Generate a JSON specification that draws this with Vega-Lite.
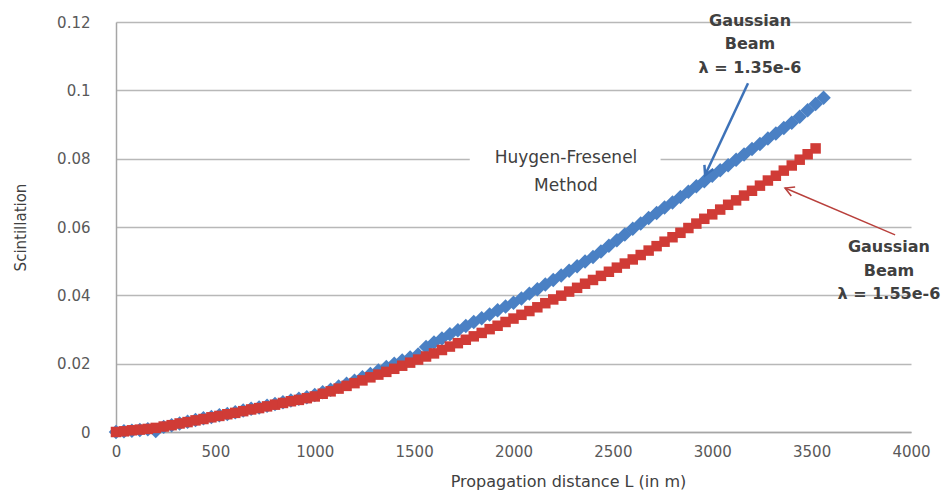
{
  "$schema": "https://vega.github.io/schema/vega-lite/v6.json",
  "width": 795,
  "height": 410,
  "autosize": {"type": "none"},
  "padding": {"left": 116, "top": 22, "right": 37, "bottom": 69},
  "background": "white",
  "config": {
    "view": {"stroke": null},
    "font": "DejaVu Sans"
  },
  "datasets": {
    "beam": [
      {"L": 0, "blue": 0.0000, "red": 0.0000},
      {"L": 40, "blue": 0.0002, "red": 0.0002},
      {"L": 80, "blue": 0.0004, "red": 0.0005},
      {"L": 120, "blue": 0.0006, "red": 0.0007},
      {"L": 160, "blue": 0.0008, "red": 0.0009},
      {"L": 200, "blue": 0.0003, "red": 0.0012},
      {"L": 240, "blue": 0.0015, "red": 0.0016},
      {"L": 280, "blue": 0.0020, "red": 0.0020},
      {"L": 320, "blue": 0.0025, "red": 0.0025},
      {"L": 360, "blue": 0.0030, "red": 0.0029},
      {"L": 400, "blue": 0.0035, "red": 0.0034},
      {"L": 440, "blue": 0.0040, "red": 0.0038},
      {"L": 480, "blue": 0.0044, "red": 0.0043},
      {"L": 520, "blue": 0.0049, "red": 0.0047},
      {"L": 560, "blue": 0.0053, "red": 0.0052},
      {"L": 600, "blue": 0.0058, "red": 0.0056},
      {"L": 640, "blue": 0.0063, "red": 0.0061},
      {"L": 680, "blue": 0.0068, "red": 0.0066},
      {"L": 720, "blue": 0.0072, "red": 0.0070},
      {"L": 760, "blue": 0.0077, "red": 0.0075},
      {"L": 800, "blue": 0.0082, "red": 0.0080},
      {"L": 840, "blue": 0.0087, "red": 0.0085},
      {"L": 880, "blue": 0.0092, "red": 0.0090},
      {"L": 920, "blue": 0.0097, "red": 0.0094},
      {"L": 960, "blue": 0.0102, "red": 0.0099},
      {"L": 1000, "blue": 0.0108, "red": 0.0104},
      {"L": 1040, "blue": 0.0116, "red": 0.0112},
      {"L": 1080, "blue": 0.0124, "red": 0.0119},
      {"L": 1120, "blue": 0.0133, "red": 0.0127},
      {"L": 1160, "blue": 0.0141, "red": 0.0135},
      {"L": 1200, "blue": 0.0150, "red": 0.0143},
      {"L": 1240, "blue": 0.0160, "red": 0.0151},
      {"L": 1280, "blue": 0.0170, "red": 0.0160},
      {"L": 1320, "blue": 0.0180, "red": 0.0168},
      {"L": 1360, "blue": 0.0190, "red": 0.0176},
      {"L": 1400, "blue": 0.0200, "red": 0.0185},
      {"L": 1440, "blue": 0.0209, "red": 0.0194},
      {"L": 1480, "blue": 0.0218, "red": 0.0203},
      {"L": 1520, "blue": 0.0227, "red": 0.0212},
      {"L": 1560, "blue": 0.0249, "red": 0.0221},
      {"L": 1600, "blue": 0.0262, "red": 0.0230},
      {"L": 1640, "blue": 0.0274, "red": 0.0240},
      {"L": 1680, "blue": 0.0286, "red": 0.0250},
      {"L": 1720, "blue": 0.0298, "red": 0.0260},
      {"L": 1760, "blue": 0.0310, "red": 0.0270},
      {"L": 1800, "blue": 0.0322, "red": 0.0280},
      {"L": 1840, "blue": 0.0333, "red": 0.0290},
      {"L": 1880, "blue": 0.0344, "red": 0.0301},
      {"L": 1920, "blue": 0.0356, "red": 0.0311},
      {"L": 1960, "blue": 0.0367, "red": 0.0322},
      {"L": 2000, "blue": 0.0378, "red": 0.0332},
      {"L": 2040, "blue": 0.0391, "red": 0.0343},
      {"L": 2080, "blue": 0.0405, "red": 0.0354},
      {"L": 2120, "blue": 0.0418, "red": 0.0365},
      {"L": 2160, "blue": 0.0432, "red": 0.0377},
      {"L": 2200, "blue": 0.0445, "red": 0.0388},
      {"L": 2240, "blue": 0.0458, "red": 0.0399},
      {"L": 2280, "blue": 0.0472, "red": 0.0411},
      {"L": 2320, "blue": 0.0485, "red": 0.0422},
      {"L": 2360, "blue": 0.0499, "red": 0.0434},
      {"L": 2400, "blue": 0.0512, "red": 0.0445},
      {"L": 2440, "blue": 0.0528, "red": 0.0457},
      {"L": 2480, "blue": 0.0545, "red": 0.0469},
      {"L": 2520, "blue": 0.0561, "red": 0.0481},
      {"L": 2560, "blue": 0.0578, "red": 0.0493},
      {"L": 2600, "blue": 0.0595, "red": 0.0505},
      {"L": 2640, "blue": 0.0610, "red": 0.0518},
      {"L": 2680, "blue": 0.0626, "red": 0.0531},
      {"L": 2720, "blue": 0.0641, "red": 0.0544},
      {"L": 2760, "blue": 0.0657, "red": 0.0557},
      {"L": 2800, "blue": 0.0672, "red": 0.0570},
      {"L": 2840, "blue": 0.0688, "red": 0.0583},
      {"L": 2880, "blue": 0.0703, "red": 0.0597},
      {"L": 2920, "blue": 0.0719, "red": 0.0610},
      {"L": 2960, "blue": 0.0734, "red": 0.0624},
      {"L": 3000, "blue": 0.0750, "red": 0.0637},
      {"L": 3040, "blue": 0.0766, "red": 0.0651},
      {"L": 3080, "blue": 0.0781, "red": 0.0665},
      {"L": 3120, "blue": 0.0797, "red": 0.0678},
      {"L": 3160, "blue": 0.0812, "red": 0.0692},
      {"L": 3200, "blue": 0.0828, "red": 0.0706},
      {"L": 3240, "blue": 0.0843, "red": 0.0721},
      {"L": 3280, "blue": 0.0859, "red": 0.0736},
      {"L": 3320, "blue": 0.0874, "red": 0.0750},
      {"L": 3360, "blue": 0.0890, "red": 0.0765},
      {"L": 3400, "blue": 0.0905, "red": 0.0780},
      {"L": 3440, "blue": 0.0923, "red": 0.0797},
      {"L": 3480, "blue": 0.0942, "red": 0.0813},
      {"L": 3520, "blue": 0.0960, "red": 0.0830},
      {"L": 3560, "blue": 0.0978, "red": null}
    ]
  },
  "layer": [
    {
      "description": "white box behind the Huygen-Fresenel caption",
      "data": {"values": [{"L": 1780, "L2": 2740, "s": 0.0685, "s2": 0.084}]},
      "mark": {"type": "rect", "color": "white"},
      "encoding": {
        "x": {"field": "L", "type": "quantitative", "scale": {"domain": [0, 4000]},
          "axis": {
            "values": [0, 500, 1000, 1500, 2000, 2500, 3000, 3500, 4000],
            "format": "d",
            "labelFlush": false,
            "grid": false, "ticks": false,
            "domain": true, "domainColor": "#a6a6a6", "domainWidth": 1.5,
            "labelFont": "DejaVu Sans", "labelFontSize": 15, "labelColor": "#595959",
            "labelPadding": 12,
            "title": "Propagation distance L (in m)",
            "titleFont": "DejaVu Sans", "titleFontSize": 16, "titleFontWeight": "normal",
            "titleColor": "#404040", "titlePadding": 14, "titleX": 452
          }
        },
        "x2": {"field": "L2"},
        "y": {"field": "s", "type": "quantitative", "scale": {"domain": [0, 0.12]},
          "axis": {
            "values": [0, 0.02, 0.04, 0.06, 0.08, 0.1, 0.12],
            "format": "~g",
            "labelFlush": false,
            "grid": true, "gridColor": "#b8b8b8", "gridWidth": 1.5,
            "ticks": false,
            "domain": true, "domainColor": "#a6a6a6", "domainWidth": 1.5,
            "labelFont": "DejaVu Sans", "labelFontSize": 15, "labelColor": "#595959",
            "labelPadding": 26,
            "title": "Scintillation",
            "titleFont": "DejaVu Sans", "titleFontSize": 15, "titleFontWeight": "normal",
            "titleColor": "#404040", "titlePadding": 28
          }
        },
        "y2": {"field": "s2"}
      }
    },
    {
      "description": "Gaussian beam, wavelength 1.35e-6",
      "data": {"name": "beam"},
      "transform": [{"filter": "datum.blue != null"}],
      "mark": {"type": "point", "shape": "diamond", "filled": true, "size": 210, "color": "#4a80c4", "opacity": 1},
      "encoding": {
        "x": {"field": "L", "type": "quantitative"},
        "y": {"field": "blue", "type": "quantitative"}
      }
    },
    {
      "description": "Gaussian beam, wavelength 1.55e-6",
      "data": {"name": "beam"},
      "transform": [{"filter": "datum.red != null"}],
      "mark": {"type": "point", "shape": "square", "filled": true, "size": 110, "color": "#d03b36", "opacity": 1},
      "encoding": {
        "x": {"field": "L", "type": "quantitative"},
        "y": {"field": "red", "type": "quantitative"}
      }
    },
    {
      "data": {"values": [{"L": 3180, "s": 0.1021, "L2": 2964, "s2": 0.0752}]},
      "mark": {"type": "rule", "color": "#3d72b8", "strokeWidth": 2.5},
      "encoding": {
        "x": {"field": "L", "type": "quantitative"},
        "y": {"field": "s", "type": "quantitative"},
        "x2": {"field": "L2"},
        "y2": {"field": "s2"}
      }
    },
    {
      "data": {"values": [{"L": 2964, "s": 0.0752}]},
      "mark": {"type": "point", "shape": "M-0.55,1L0,0L0.55,1", "filled": false, "size": 320, "color": "#3d72b8", "strokeWidth": 2.5, "angle": 205, "opacity": 1},
      "encoding": {
        "x": {"field": "L", "type": "quantitative"},
        "y": {"field": "s", "type": "quantitative"}
      }
    },
    {
      "data": {"values": [{"L": 3920, "s": 0.0577, "L2": 3366, "s2": 0.0714}]},
      "mark": {"type": "rule", "color": "#b9403c", "strokeWidth": 1.5},
      "encoding": {
        "x": {"field": "L", "type": "quantitative"},
        "y": {"field": "s", "type": "quantitative"},
        "x2": {"field": "L2"},
        "y2": {"field": "s2"}
      }
    },
    {
      "data": {"values": [{"L": 3366, "s": 0.0714}]},
      "mark": {"type": "point", "shape": "M-0.55,1L0,0L0.55,1", "filled": false, "size": 320, "color": "#b9403c", "strokeWidth": 1.5, "angle": 293, "opacity": 1},
      "encoding": {
        "x": {"field": "L", "type": "quantitative"},
        "y": {"field": "s", "type": "quantitative"}
      }
    },
    {
      "data": {"values": [
        {"L": 3190, "s": 0.1203, "t": "Gaussian\nBeam\nλ = 1.35e-6"},
        {"L": 3889, "s": 0.0541, "t": "Gaussian\nBeam\nλ = 1.55e-6"}
      ]},
      "mark": {"type": "text", "font": "DejaVu Sans", "fontSize": 16, "fontWeight": "bold", "color": "#404040", "align": "center", "baseline": "middle", "lineBreak": "\n", "lineHeight": 23.5},
      "encoding": {
        "x": {"field": "L", "type": "quantitative"},
        "y": {"field": "s", "type": "quantitative"},
        "text": {"field": "t"}
      }
    },
    {
      "data": {"values": [{"L": 2264, "s": 0.0802, "t": "Huygen-Fresenel\nMethod"}]},
      "mark": {"type": "text", "font": "DejaVu Sans", "fontSize": 17, "color": "#404040", "align": "center", "baseline": "middle", "lineBreak": "\n", "lineHeight": 28},
      "encoding": {
        "x": {"field": "L", "type": "quantitative"},
        "y": {"field": "s", "type": "quantitative"},
        "text": {"field": "t"}
      }
    }
  ]
}
